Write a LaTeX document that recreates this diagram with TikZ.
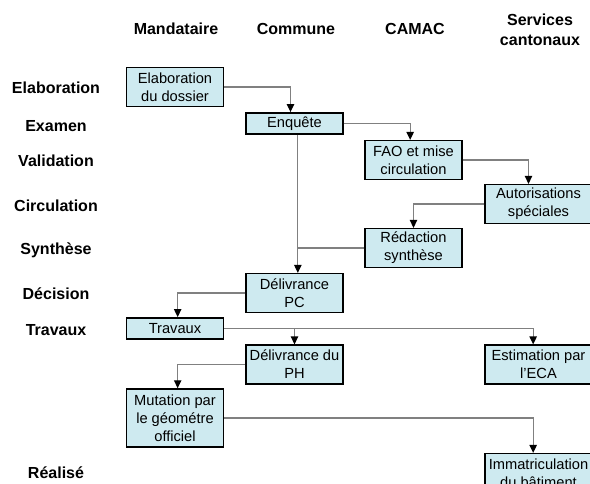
\documentclass[tikz,border=0pt]{standalone}
\usepackage{fontspec}
\setmainfont{Liberation Sans}
\usetikzlibrary{arrows.meta, positioning, calc}

\begin{document}
\begin{tikzpicture}[
    x=0.75pt, y=-0.75pt,
    box/.style={draw=black, line width=1.1pt, fill={rgb,255:red,206;green,234;blue,240}, align=center, font=\fontsize{11}{13.5}\selectfont, inner sep=1pt},
    colbox/.style={box, minimum width=72.5pt, minimum height=29pt},
    wide/.style={box, minimum width=80pt, minimum height=29pt},
    lane/.style={font=\bfseries\fontsize{12}{15}\selectfont, align=center},
    link/.style={draw=gray, line width=0.9pt, -{Triangle[color=black, length=6pt, width=5.5pt]}},
    plain/.style={draw=gray, line width=0.9pt}
]
    % Frame
    \clip (0,0) rectangle (590,483);

    % Column heads
    \node[lane] (hMand) at (176,29) {Mandataire};
    \node[lane] (hComm) at (296,29) {Commune};
    \node[lane] (hCamac) at (415,29) {CAMAC};
    \node[lane] (hServ) at (540,30) {Services\\cantonaux};

    % Row heads
    \node[lane] (rElab) at (56,88) {Elaboration};
    \node[lane] (rExam) at (56,126) {Examen};
    \node[lane] (rValid) at (56,161) {Validation};
    \node[lane] (rCirc) at (56,206) {Circulation};
    \node[lane] (rSynth) at (56,250) {Synthèse};
    \node[lane] (rDec) at (56,294) {Décision};
    \node[lane] (rTrav) at (56,330) {Travaux};
    \node[lane] (rReal) at (56,473) {Réalisé};

    % Steps
    \node[colbox] (elab) at (175,87) {Elaboration\\du dossier};
    \node[colbox, minimum height=16pt] (enq) at (294.5,123.5) {Enquête};
    \node[colbox] (fao) at (413.5,160) {FAO et mise\\circulation};
    \node[wide] (aut) at (538.5,204) {Autorisations\\spéciales};
    \node[colbox] (red) at (413.5,248) {Rédaction\\synthèse};
    \node[colbox] (dpc) at (294.5,293) {Délivrance\\PC};
    \node[colbox, minimum height=16pt] (trav) at (175,328.5) {Travaux};
    \node[colbox] (dph) at (294.5,364.5) {Délivrance du\\PH};
    \node[wide] (eca) at (538.5,364.5) {Estimation par\\l'ECA};
    \node[colbox, minimum height=43.5pt] (mut) at (175,418) {Mutation par\\le géométre\\officiel};
    \node[wide] (imm) at (538.5,473) {Immatriculation\\du bâtiment};

    % Edges
    \draw[link] (elab.east) -| ([xshift=-3pt]enq.north);
    \draw[link] (enq.east) -| ([xshift=-2.5pt]fao.north);
    \draw[link] (fao.east) -| ([xshift=-7.5pt]aut.north);
    \draw[link] (aut.west) -| (red.north);
    \draw[link] ([xshift=2.5pt]enq.south) -- ([xshift=2.5pt]dpc.north);
    \draw[plain] (red.west) -- (red.west -| {$(enq.south)+(2.5pt,0)$});
    \draw[link] (dpc.west) -| ([xshift=2pt]trav.north);
    \draw[link] (trav.east) -| ([xshift=-4pt]eca.north);
    \draw[link] (trav.east -| dph.north) -- (dph.north);
    \draw[link] (dph.west) -| ([xshift=2pt]mut.north);
    \draw[link] (mut.east) -| ([xshift=-4pt]imm.north);
\end{tikzpicture}
\end{document}
